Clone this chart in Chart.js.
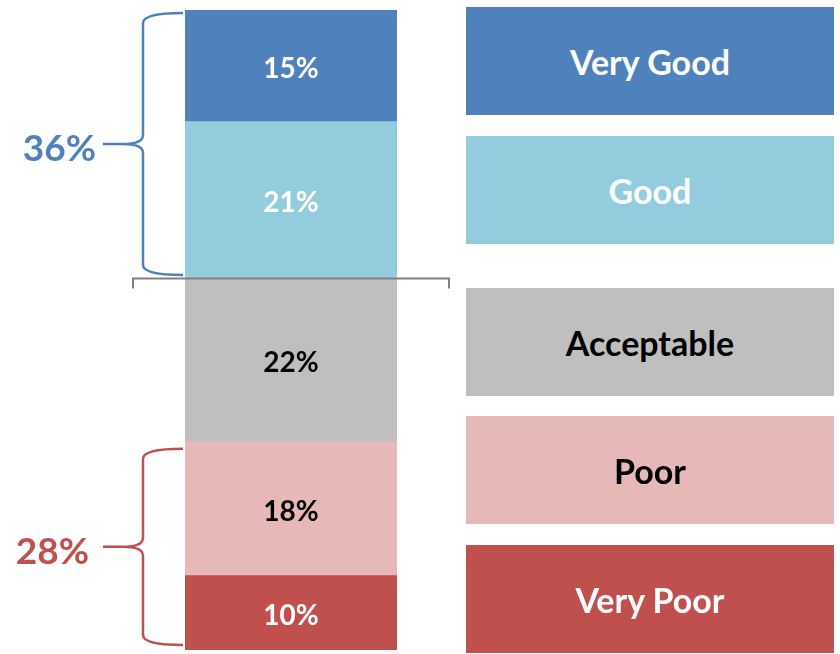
<!DOCTYPE html>
<html>
<head>
<meta charset="utf-8">
<script src="https://cdn.jsdelivr.net/npm/chart.js@4"></script>
<style>
  body { margin: 0; background: #fff; font-family: Lato, "Open Sans", sans-serif; }
  #wrap { position: relative; width: 840px; height: 654px; }
  #chart { position: absolute; left: 0; top: 0; }
  .key {
    position: absolute; left: 466px; width: 368px; height: 108px;
    display: flex; align-items: center; justify-content: center;
    font-weight: bold; font-size: 34px;
  }
</style>
</head>
<body>
<div id="wrap">
  <canvas id="chart" width="840" height="654"></canvas>
  <div id="legend"></div>
</div>
<script>
// bottom to top, as stacked in the bar
const categories = ["Very Poor", "Poor", "Acceptable", "Good", "Very Good"];
const shares = [10, 18, 22, 21, 15];
const fills = ["#c0504d", "#e6b9b8", "#bfbfbf", "#93cddd", "#4f81bd"];
const inks = ["#fff", "#000", "#000", "#fff", "#fff"];

// brace groups: indexes into categories
const topGroup = [3, 4];
const bottomGroup = [0, 1];

const total = shares.reduce((a, b) => a + b, 0);
const FONT = "Lato, 'Open Sans', sans-serif";

// legend boxes, top to bottom
const legendTops = [7, 136, 288, 416, 545];
const legend = document.getElementById("legend");
categories.slice().reverse().forEach((name, k) => {
  const i = categories.length - 1 - k;
  const d = document.createElement("div");
  d.className = "key";
  d.style.top = legendTops[k] + "px";
  d.style.background = fills[i];
  d.style.color = inks[i];
  d.textContent = name;
  legend.appendChild(d);
});

function drawBrace(ctx, xEnd, xSpine, xTip, top, bot, color) {
  const mid = (top + bot) / 2;
  ctx.save();
  ctx.strokeStyle = color;
  ctx.lineWidth = 2.5;
  ctx.beginPath();
  ctx.moveTo(xEnd, top);
  ctx.quadraticCurveTo(xSpine, top, xSpine, top + 10);
  ctx.lineTo(xSpine, mid - 9);
  ctx.quadraticCurveTo(xSpine, mid, xSpine - 20, mid);
  ctx.lineTo(xTip, mid);
  ctx.moveTo(xSpine - 20, mid);
  ctx.quadraticCurveTo(xSpine, mid, xSpine, mid + 9);
  ctx.lineTo(xSpine, bot - 10);
  ctx.quadraticCurveTo(xSpine, bot, xEnd, bot);
  ctx.stroke();
  ctx.restore();
  return mid;
}

const annotate = {
  id: "annotate",
  afterDatasetsDraw(chart) {
    const ctx = chart.ctx;
    const y = chart.scales.y;

    // values inside the bar
    ctx.save();
    ctx.font = "bold 28px " + FONT;
    ctx.textAlign = "center";
    ctx.textBaseline = "middle";
    chart.data.datasets.forEach((ds, i) => {
      const bar = chart.getDatasetMeta(i).data[0];
      ctx.fillStyle = inks[i];
      ctx.fillText(ds.data[0] + "%", bar.x, (bar.y + bar.base) / 2 + 3);
    });
    ctx.restore();

    const bar0 = chart.getDatasetMeta(0).data[0];
    const left = bar0.x - bar0.width / 2;
    const right = bar0.x + bar0.width / 2;

    const cum = i => shares.slice(0, i).reduce((a, b) => a + b, 0);

    // braces
    const groups = [
      { idx: topGroup, color: "#4f81bd", inTop: 3, inBot: -3, gap: 89 },
      { idx: bottomGroup, color: "#c0504d", inTop: 7, inBot: -5, gap: 96 }
    ];
    groups.forEach(g => {
      const lo = Math.min(...g.idx), hi = Math.max(...g.idx);
      const top = y.getPixelForValue(cum(hi + 1)) + g.inTop;
      const bot = y.getPixelForValue(cum(lo)) + g.inBot;
      const mid = drawBrace(ctx, left - 2, left - 42, left - 82, top, bot, g.color);
      const sum = g.idx.reduce((a, i) => a + shares[i], 0);
      ctx.save();
      ctx.font = "bold 37px " + FONT;
      ctx.fillStyle = g.color;
      ctx.textAlign = "right";
      ctx.textBaseline = "middle";
      ctx.fillText(sum + "%", left - g.gap, mid + 5);
      ctx.restore();
    });

    // gray divider between the upper and lower parts
    const yDiv = Math.round(y.getPixelForValue(cum(3))) + 0.5;
    ctx.save();
    ctx.strokeStyle = "#808080";
    ctx.lineWidth = 2;
    ctx.beginPath();
    ctx.moveTo(left - 52, yDiv + 10);
    ctx.lineTo(left - 52, yDiv);
    ctx.lineTo(right + 52, yDiv);
    ctx.lineTo(right + 52, yDiv + 10);
    ctx.stroke();
    ctx.restore();
  }
};

new Chart(document.getElementById("chart"), {
  type: "bar",
  data: {
    labels: [""],
    datasets: categories.map((name, i) => ({
      label: name,
      data: [shares[i]],
      backgroundColor: fills[i],
      borderWidth: 0,
      barPercentage: 1,
      categoryPercentage: 1
    }))
  },
  options: {
    responsive: false,
    animation: false,
    layout: { padding: { left: 185, right: 443, top: 10, bottom: 4 } },
    scales: {
      x: { stacked: true, display: false },
      y: { stacked: true, display: false, min: 0, max: total }
    },
    plugins: {
      legend: { display: false },
      tooltip: { enabled: false }
    }
  },
  plugins: [annotate]
});
</script>
</body>
</html>
